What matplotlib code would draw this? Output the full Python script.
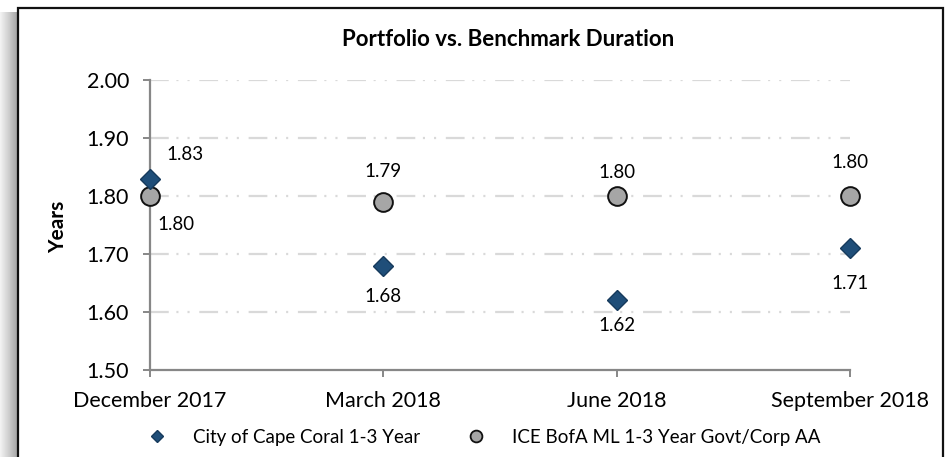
import matplotlib
matplotlib.use("Agg")
import matplotlib.pyplot as plt
import numpy as np
from matplotlib.patches import Rectangle
from matplotlib.lines import Line2D

categories = ["December 2017", "March 2018", "June 2018", "September 2018"]
portfolio = [1.83, 1.68, 1.62, 1.71]
benchmark = [1.80, 1.79, 1.80, 1.80]
portfolio_name = "City of Cape Coral 1-3 Year"
benchmark_name = "ICE BofA ML 1-3 Year Govt/Corp AA"
yticks = [1.50, 1.60, 1.70, 1.80, 1.90, 2.00]
title = "Portfolio vs. Benchmark Duration"
ylabel = "Years"

plt.rcParams['font.family'] = ['Lato', 'DejaVu Sans']
plt.rcParams['lines.scale_dashes'] = False

W, H = 948, 457
fig = plt.figure(figsize=(W / 100, H / 100), dpi=100)

# left shadow
sh = fig.add_axes([0, 0, 17 / W, 1 - 12 / H])
grad = np.linspace(0, 1, 64).reshape(1, -1)
sh.imshow(grad, aspect='auto', cmap=matplotlib.colors.LinearSegmentedColormap.from_list(
    'g', ['#f4f4f4', '#d0d0d0', '#a8a8a8']), extent=[0, 1, 0, 1])
sh.axis('off')

# chart frame
fig.patches.append(Rectangle((18 / W, -0.05), (943 - 18) / W, 1.05 - 8 / H,
                             transform=fig.transFigure, fill=False,
                             edgecolor='#111111', linewidth=1.6, zorder=10))

ax = fig.add_axes([150 / W, (H - 370) / H, 700 / W, 290 / H])
x = np.arange(len(categories))

ax.set_xlim(0, len(categories) - 1)
ax.set_ylim(1.50, 2.00)
ax.set_yticks(yticks)
ax.set_yticklabels([f"{v:.2f}" for v in yticks])
ax.set_xticks(x)
ax.set_xticklabels(categories)

for v in yticks[1:]:
    ax.axhline(v, color='#d9d9d9', linewidth=1.6,
               linestyle=(0, (13.5, 5.5, 1.5, 6.5, 1.5, 7)), zorder=0)

for s in ['top', 'right']:
    ax.spines[s].set_visible(False)
for s in ['left', 'bottom']:
    ax.spines[s].set_color('#878787')
    ax.spines[s].set_linewidth(1.6)
ax.tick_params(axis='both', colors='#878787', width=1.4, length=5, labelcolor='black',
               labelsize=15.5)
ax.tick_params(axis='y', pad=10)
ax.tick_params(axis='x', pad=10)

ax.plot(x, portfolio, linestyle='none', marker='D', markersize=10,
        markerfacecolor='#1f4e79', markeredgecolor='#163a5c', markeredgewidth=1,
        zorder=5, clip_on=False)
ax.plot(x, benchmark, linestyle='none', marker='o', markersize=13.5,
        markerfacecolor='#a6a6a6', markeredgecolor='#111111', markeredgewidth=1.4,
        zorder=4, clip_on=False)

p_off = [(35, 24), (0, -31), (0, -25), (0, -35)]
b_off = [(26, -29), (0, 30), (0, 23), (0, 33)]
for i in range(len(categories)):
    ax.annotate(f"{portfolio[i]:.2f}", (x[i], portfolio[i]), xytext=p_off[i],
                textcoords='offset pixels', ha='center', va='center', fontsize=13.5)
    ax.annotate(f"{benchmark[i]:.2f}", (x[i], benchmark[i]), xytext=b_off[i],
                textcoords='offset pixels', ha='center', va='center', fontsize=13.5)

fig.text(508 / W, 1 - 40 / H, title, ha='center', va='center', fontsize=16,
         fontweight='bold')
fig.text(58 / W, 1 - 227 / H, ylabel, ha='center', va='center', rotation=90,
         fontsize=15, fontweight='bold')

handles = [
    Line2D([], [], linestyle='none', marker='D', markersize=6.5,
           markerfacecolor='#1f4e79', markeredgecolor='#163a5c', markeredgewidth=1),
    Line2D([], [], linestyle='none', marker='o', markersize=8.5,
           markerfacecolor='#a6a6a6', markeredgecolor='#111111', markeredgewidth=1.3),
]
fig.legend(handles, [portfolio_name, benchmark_name], loc='center',
           bbox_to_anchor=(483 / W, 1 - 437 / H), ncol=2,
           frameon=False, fontsize=13.5, columnspacing=2.4, handletextpad=1.3,
           handlelength=1.2)

fig.savefig("out.png", dpi=100)
